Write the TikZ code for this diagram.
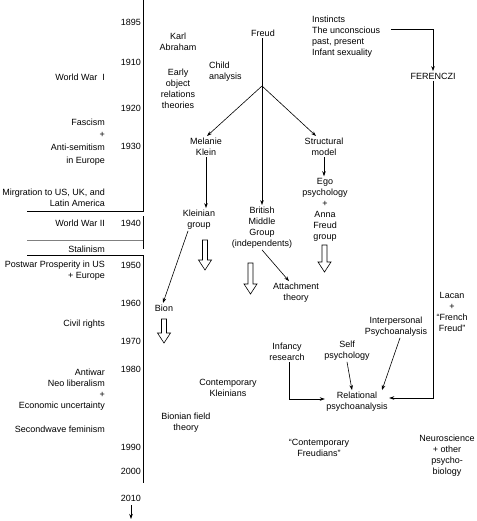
\documentclass[tikz,border=0pt]{standalone}
\usepackage{fontspec}
\setmainfont{Liberation Sans}
\usetikzlibrary{arrows.meta,calc}
\newcommand{\hollowdn}[3]{%
  \draw[line width=0.6pt,fill=white] (#1-2.5,#2) -- (#1+2.5,#2) -- (#1+2.5,#3-10) -- (#1+6.5,#3-10) -- (#1,#3) -- (#1-6.5,#3-10) -- (#1-2.5,#3-10) -- cycle;}
\begin{document}
\begin{tikzpicture}[x=1pt,y=-1pt,
  lbl/.style={font=\fontsize{9}{11}\selectfont,align=center,inner sep=1.5pt},
  yr/.style={font=\fontsize{9}{11}\selectfont,anchor=east,inner sep=0pt},
  ev/.style={font=\fontsize{9}{11}\selectfont,anchor=east,align=right,inner sep=0pt},
  arr/.style={-{Stealth[length=5pt,width=3.5pt]},line width=0.6pt},
  ln/.style={line width=0.6pt}]
\useasboundingbox[fill=white] (0,0) rectangle (476,521);

% timeline axis
\draw[ln] (143,0) -- (143,211) -- (27,211);
\draw[ln] (143,216) -- (143,249);
\draw[ln,gray] (27,240) -- (143,240);
\draw[ln] (27,255) -- (143,255) -- (143,483);
\coordinate (tA) at (131,505);
\coordinate (tB) at (131,519);
\draw[arr] (tA) -- (tB);

% years
\node[yr] (y1895) at (141,22) {1895};
\node[yr] (y1910) at (141,62) {1910};
\node[yr] (y1920) at (141,108) {1920};
\node[yr] (y1930) at (141,146) {1930};
\node[yr] (y1940) at (141,223) {1940};
\node[yr] (y1950) at (141,265) {1950};
\node[yr] (y1960) at (141,303) {1960};
\node[yr] (y1970) at (141,341) {1970};
\node[yr] (y1980) at (141,369) {1980};
\node[yr] (y1990) at (141,447) {1990};
\node[yr] (y2000) at (141,471) {2000};
\node[yr] (y2010) at (141,498) {2010};

% events
\node[ev] (ww1) at (105,77) {World War\ \ I};
\node[ev,font=\fontsize{9}{12.7}\selectfont] (fasc) at (105,142) {Fascism\\+\\Anti-semitism\\in Europe};
\node[ev] (mig) at (105,197.5) {Mirgration to US, UK, and\\Latin America};
\node[ev] (ww2) at (105,223) {World War II};
\node[ev] (stal) at (105,249) {Stalinism};
\node[ev] (post) at (105,270.5) {Postwar Prosperity in US\\+ Europe};
\node[ev] (civil) at (105,324) {Civil rights};
\node[ev] (anti) at (105,389.5) {Antiwar\\Neo liberalism\\+\\Economic uncertainty};
\node[ev] (second) at (105,429) {Secondwave feminism};

% nodes
\node[lbl] (karl) at (178,42) {Karl\\Abraham};
\node[lbl] (early) at (178,89) {Early\\object\\relations\\theories};
\node[lbl,align=left,anchor=west] (child) at (207.5,71.5) {Child\\analysis};
\node[lbl] (freud) at (263,33) {Freud};
\node[lbl,align=left,anchor=west] (inst) at (310.5,36.5) {Instincts\\The unconscious\\past, present\\Infant sexuality};
\node[lbl] (fer) at (433,76) {FERENCZI};
\node[lbl] (mel) at (206,146.5) {Melanie\\Klein};
\node[lbl] (struct) at (324,146.5) {Structural\\model};
\node[lbl] (ego) at (325,209.5) {Ego\\psychology\\+\\Anna\\Freud\\group};
\node[lbl] (klein) at (199,219.5) {Kleinian\\group};
\node[lbl] (brit) at (262,227.5) {British\\Middle\\Group\\(independents)};
\node[lbl] (attach) at (296,292.5) {Attachment\\theory};
\node[lbl] (bion) at (164,308) {Bion};
\node[lbl] (lacan) at (452,311.5) {Lacan\\+\\“French\\Freud”};
\node[lbl] (inter) at (396,326.5) {Interpersonal\\Psychoanalysis};
\node[lbl] (inf) at (287,351.5) {Infancy\\research};
\node[lbl] (self) at (347,350.5) {Self\\psychology};
\node[lbl] (rel) at (357,401.5) {Relational\\psychoanalysis};
\node[lbl] (ckl) at (228,387.5) {Contemporary\\Kleinians};
\node[lbl] (bft) at (186,422.5) {Bionian field\\theory};
\node[lbl] (cfr) at (319,447.5) {“Contemporary\\Freudians”};
\node[lbl] (neuro) at (447,456) {Neuroscience\\+ other\\psycho-\\biology};

% connectors
\coordinate (branch) at (262,86);
\draw[ln] (freud.south -| branch) -- (branch);
\draw[arr] (branch) -- (brit.north -| branch);
\draw[arr] (branch) -- ([xshift=1pt]mel.north);
\draw[arr] (branch) -- ([xshift=-8pt]struct.north);
\draw[arr] (mel.south) -- (klein.north -| mel.south);
\draw[arr] (struct.south) -- ([xshift=-1pt]ego.north);
\draw[arr] ([xshift=-11pt]klein.south) -- ([xshift=-1pt]bion.north);
\draw[arr] (brit.south) -- ([xshift=-7pt]attach.north);
\draw[arr] ([shift={(9pt,7.5pt)}]inst.east) -| (fer.north);
\draw[arr] (fer.south) |- ([yshift=3.5pt]rel.east);
\draw[arr] ([xshift=2pt]inf.south) |- ([yshift=2.5pt]rel.west);
\draw[arr] (self.south) -- ([xshift=-5pt]rel.north);
\draw[arr] ([xshift=4pt]inter.south) -- ([xshift=25pt]rel.north);

% hollow arrows
\hollowdn{205}{240}{270}
\hollowdn{250.5}{263}{294}
\hollowdn{324.5}{245}{272}
\hollowdn{164}{319}{343}
\end{tikzpicture}
\end{document}
